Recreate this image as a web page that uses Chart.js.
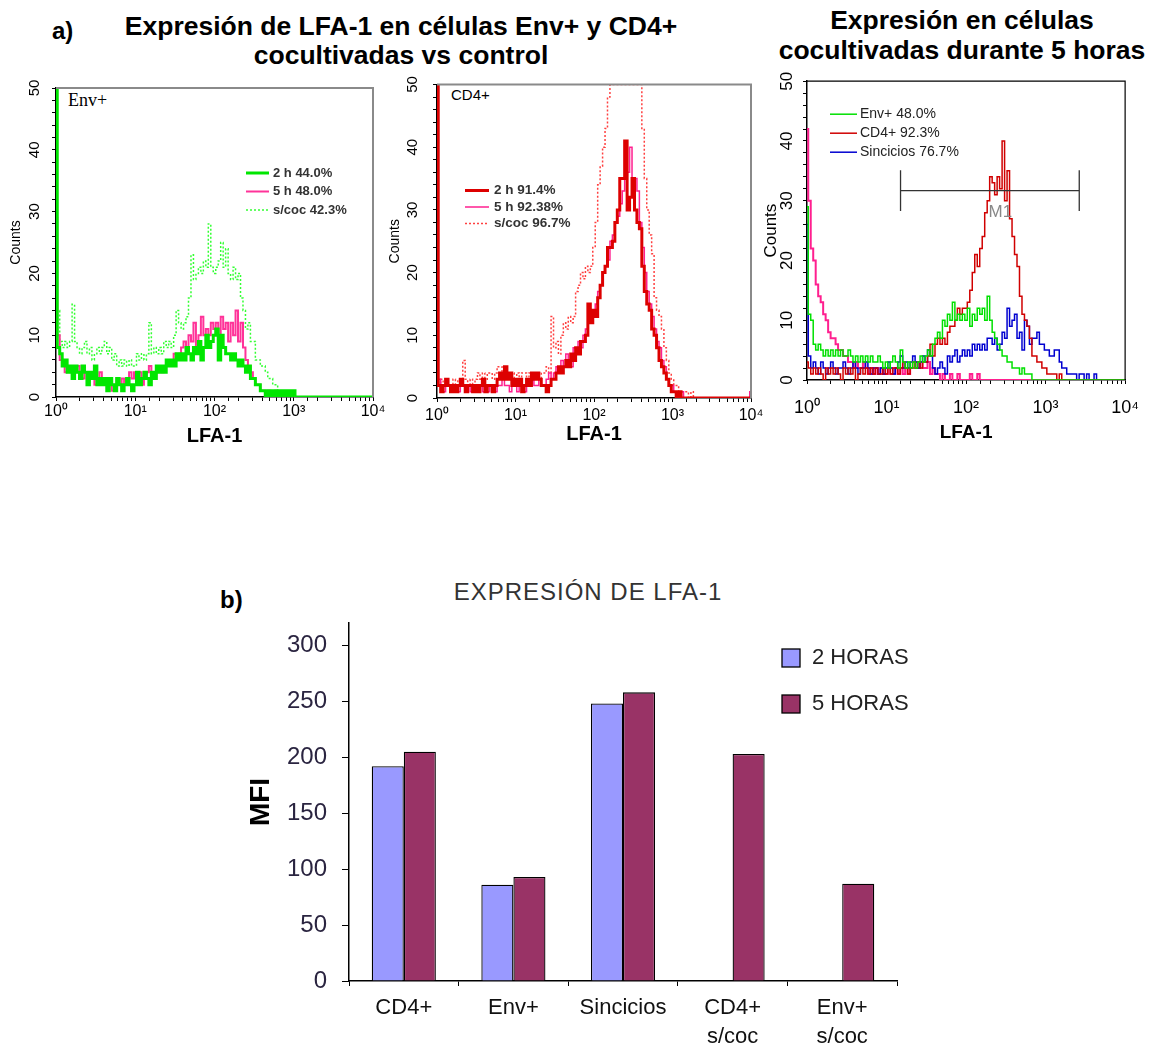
<!DOCTYPE html>
<html>
<head>
<meta charset="utf-8">
<script src="https://cdn.jsdelivr.net/npm/chart.js@4.4.1/dist/chart.umd.min.js"></script>
<style>
  body { margin: 0; background: #fff; width: 1152px; height: 1047px; position: relative; overflow: hidden;
         font-family: "Liberation Sans", Arial, sans-serif; }
  canvas { position: absolute; }
  .txt { position: absolute; white-space: nowrap; color: #000; }
  .head { font-weight: bold; font-size: 26.5px; text-align: center; }
</style>
</head>
<body>
<div class="txt" style="left:52px;top:19px;font-size:24px;line-height:24px;font-weight:bold;">a)</div>
<div class="txt head" style="left:101px;top:12px;width:600px;line-height:29px;">Expresión de LFA-1 en células Env+ y CD4+<br>cocultivadas vs control</div>
<div class="txt head" style="left:712px;top:5px;width:500px;line-height:30px;">Expresión en células<br>cocultivadas durante 5 horas</div>
<div class="txt" style="left:68px;top:91px;font-family:'Liberation Serif',serif;font-size:18px;line-height:18px;">Env+</div>
<div class="txt" style="left:451px;top:87px;font-size:15px;line-height:15px;">CD4+</div>
<div class="txt" style="left:220px;top:588px;font-size:24px;line-height:24px;font-weight:bold;">b)</div>
<div class="txt" style="left:438px;top:580px;width:300px;text-align:center;font-size:24px;line-height:24px;letter-spacing:1px;color:#333;">EXPRESIÓN DE LFA-1</div>

<canvas id="envChart" width="395" height="380" style="left:0;top:70px"></canvas>
<canvas id="cd4Chart" width="395" height="386" style="left:380px;top:64px"></canvas>
<canvas id="mixChart" width="392" height="385" style="left:760px;top:65px"></canvas>
<canvas id="mfiChart" width="720" height="477" style="left:240px;top:570px"></canvas>

<script>
// histogram channels: 32 per decade, channel 0 = 10^0 ... channel 128 = 10^4

// Env+ panel
const envLegend = ['2 h 44.0%', '5 h 48.0%', 's/coc 42.3%'];
const env2h = [
    55,8,7,5,6,4,5,3,5,4,3,5,4,2,4,3,
    5,2,3,2,3,1,3,2,1,3,2,1,2,3,2,1,
    2,4,2,3,4,3,2,4,3,5,4,5,4,6,5,6,
    5,7,6,7,6,8,7,6,8,7,9,6,8,10,8,9,
    10,11,6,10,8,7,7,6,7,6,5,6,5,4,5,3,
    3,2,2,1,1,0,1,0,1,0,1,0,1,0,1,0,
    1,0,0,0,0,0,0,0,0,0,0,0,0,0,0,0,
    0,0,0,0,0,0,0,0,0,0,0,0,0,0,0,0,
    0
];
const env5h = [
    29,10,6,5,4,5,4,3,4,5,4,3,4,3,4,3,
    2,3,4,3,2,3,2,1,2,3,2,3,2,3,4,3,
    4,3,4,2,3,4,5,4,3,4,5,4,5,6,5,6,
    7,6,7,8,9,8,10,9,12,8,10,13,10,11,10,12,
    11,12,10,13,11,12,9,12,10,14,9,12,8,6,5,4,
    3,2,2,1,1,0,1,0,0,1,0,0,0,0,0,0,
    0,0,0,0,0,0,0,0,0,0,0,0,0,0,0,0,
    0,0,0,0,0,0,0,0,0,0,0,0,0,0,0,0,
    0
];
const envScoc = [
    16,14,9,8,9,8,9,15,9,8,7,8,9,7,8,6,
    7,8,7,8,9,7,8,6,7,5,6,5,6,5,6,5,
    5,7,6,7,6,7,12,7,8,7,8,7,9,8,9,8,
    10,14,12,11,12,13,16,23,19,20,21,20,22,21,28,21,
    20,21,22,25,21,24,20,19,21,19,20,16,14,11,12,9,
    9,6,6,5,5,4,3,3,2,2,1,1,1,0,1,0,
    0,0,0,0,0,0,0,0,0,0,0,0,0,0,0,0,
    0,0,0,0,0,0,0,0,0,0,0,0,0,0,0,0,
    0
];

// CD4+ panel
const cd4Legend = ['2 h 91.4%', '5 h 92.38%', 's/coc 96.7%'];
const cd2h = [
    55,2,1,2,3,2,1,2,1,2,3,2,1,2,2,1,
    2,1,2,3,1,2,2,1,2,3,4,3,5,3,4,2,
    3,2,3,1,2,3,2,4,3,4,3,2,2,1,2,3,
    3,4,5,4,5,6,5,7,6,8,7,9,9,10,15,12,
    14,13,16,18,20,21,24,24,25,28,30,35,35,41,30,32,
    35,30,28,27,21,17,15,14,11,10,8,6,5,4,3,2,
    1,1,0,1,0,0,0,0,0,0,0,0,0,0,0,0,
    0,0,0,0,0,0,0,0,0,0,0,0,0,0,0,0,
    0
];
const cd5h = [
    26,3,2,1,2,2,1,2,2,1,2,2,1,2,1,2,
    1,2,2,1,2,1,2,2,1,2,2,3,2,2,1,2,
    2,1,2,2,1,2,2,3,2,2,3,2,2,3,4,3,
    4,5,4,6,5,7,6,5,8,7,9,8,10,11,12,13,
    14,15,17,18,20,21,22,25,26,28,29,31,33,35,36,40,
    34,35,33,28,24,20,17,15,13,11,9,8,6,5,3,2,
    2,1,1,0,1,0,0,0,0,0,0,0,0,0,0,0,
    0,0,0,0,0,0,0,0,0,0,0,0,0,0,0,0,
    1
];
const cdScoc = [
    3,2,3,2,3,2,2,3,2,3,2,6,3,2,3,2,
    3,4,3,4,3,4,4,3,4,5,5,4,3,4,3,4,
    3,4,3,4,4,3,4,3,4,4,3,4,4,5,4,13,
    8,9,7,10,12,11,13,12,13,17,18,20,19,21,20,21,
    24,28,34,37,40,43,48,50,50,50,50,50,50,50,50,50,
    50,50,50,50,43,35,30,26,23,16,14,13,11,8,6,4,
    3,2,2,1,1,1,1,0,1,0,0,0,0,0,0,0,
    0,0,0,0,0,0,0,0,0,0,0,0,0,0,0,0,
    0
];

// cocultivated 5 h panel
const mixLegend = ['Env+ 48.0%', 'CD4+ 92.3%', 'Sincicios 76.7%'];
const mixEnv = [
    29,11,10,6,5,6,5,4,5,4,5,4,5,4,5,4,
    4,5,4,3,4,3,4,3,4,3,4,3,3,4,3,2,
    3,2,3,4,3,2,5,3,2,3,2,3,2,3,4,3,
    4,5,4,6,7,8,7,10,9,11,10,13,10,11,10,11,
    10,12,9,11,10,12,11,12,10,14,10,8,7,6,5,4,
    4,3,3,2,2,2,1,2,1,1,1,0,0,0,0,0,
    0,0,0,0,0,0,0,0,0,0,0,0,0,0,0,0,
    0,0,0,0,0,0,0,0,0,0,0,0,0,0,0,0,
    0
];
const mixCd4 = [
    3,2,1,2,1,2,1,0,2,1,2,1,2,1,0,2,
    1,2,1,2,0,1,2,1,2,1,2,1,2,1,1,2,
    1,2,1,2,2,1,2,3,2,1,2,3,2,3,2,3,
    3,4,6,4,6,7,6,7,6,8,9,9,10,12,11,12,
    12,13,15,18,21,19,22,24,28,30,34,33,31,34,32,40,
    30,35,27,24,21,19,14,11,10,9,7,4,4,3,3,2,
    2,1,1,1,1,0,1,0,0,0,0,0,0,0,0,0,
    0,0,0,0,0,0,0,0,0,0,0,0,0,0,0,0,
    0
];
const mixSyn = [
    26,4,2,3,2,1,3,2,1,2,3,2,1,2,2,3,
    2,1,2,3,2,1,2,2,3,2,1,2,2,1,2,1,
    2,3,2,1,2,3,4,2,3,2,3,4,3,2,3,4,
    3,5,4,2,1,2,3,2,1,4,3,4,5,3,4,5,
    4,5,4,6,5,6,5,6,5,7,7,6,7,5,6,8,
    7,12,9,10,11,7,8,5,10,9,6,7,7,8,6,6,
    5,5,4,4,5,5,3,2,2,1,1,1,1,0,1,1,
    0,1,0,0,1,0,0,0,0,0,0,0,0,0,0,0,
    0
];
const mixOther = [
    42,30,22,20,16,14,13,11,10,8,7,7,6,5,5,4,
    4,3,3,2,3,2,2,3,2,1,2,1,2,1,2,1,
    1,2,1,1,2,1,2,1,2,1,2,2,3,2,3,2,
    2,3,1,2,1,1,0,1,0,0,1,0,0,1,0,0,
    0,0,1,0,0,1,0,0,0,0,0,0,0,0,0,0,
    0,0,0,0,0,0,0,0,0,0,0,0,0,0,0,0,
    0,0,0,0,0,0,0,0,0,0,0,0,0,0,0,0,
    0,0,0,0,0,0,0,0,0,0,0,0,0,0,0,0,
    0
];
// M1 gate
const m1Range = [15, 2650];
const m1Level = 31.7;
const m1Label = ['M1', 270, 28];

// bar chart
const groups = ['CD4+', 'Env+', 'Sincicios', ['CD4+', 's/coc'], ['Env+', 's/coc']];
const mfi2h = [192, 86, 248, null, null];
const mfi5h = [205, 93, 258, 203, 87];

const SANS = '"Liberation Sans", Arial, sans-serif';
const SUP = ['\u2070', '\u00b9', '\u00b2', '\u00b3', '\u2074'];

const chan = i => Math.pow(10, i / 32);

function decadeLabel(v) {
    const e = Math.log10(v);
    const r = Math.round(e);
    return Math.abs(e - r) < 1e-6 ? '10' + SUP[r] : '';
}

function trace(label, values, color, width, dash, inLegend) {
    return {
        label: label,
        data: values.map((v, i) => ({ x: chan(i), y: v })),
        borderColor: color,
        borderWidth: width,
        borderDash: dash || [],
        stepped: 'middle',
        pointRadius: 0,
        fill: false,
        inLegend: inLegend !== false
    };
}

// legend drawn inside the plot area
const innerLegend = {
    id: 'innerLegend',
    afterDatasetsDraw(chart, args, opts) {
        const { ctx, chartArea } = chart;
        ctx.save();
        ctx.font = opts.font;
        ctx.textBaseline = 'middle';
        let y = chartArea.top + opts.top;
        const x = chartArea.left + opts.left;
        chart.data.datasets.forEach(ds => {
            if (ds.inLegend === false) return;
            let w;
            if (opts.box) {
                w = opts.boxW;
                ctx.fillStyle = ds.backgroundColor;
                ctx.fillRect(x, y - opts.boxH / 2, opts.boxW, opts.boxH);
                ctx.strokeStyle = '#000';
                ctx.lineWidth = 1.3;
                ctx.strokeRect(x, y - opts.boxH / 2, opts.boxW, opts.boxH);
            } else {
                w = opts.lineLen;
                ctx.strokeStyle = ds.borderColor;
                ctx.lineWidth = ds.borderWidth;
                ctx.setLineDash(ds.borderDash || []);
                ctx.beginPath();
                ctx.moveTo(x, y);
                ctx.lineTo(x + w, y);
                ctx.stroke();
                ctx.setLineDash([]);
            }
            ctx.fillStyle = opts.color;
            ctx.fillText(ds.label, x + w + opts.gap, y);
            y += opts.spacing;
        });
        ctx.restore();
    }
};

// top and right edges of the plot box
const frame = {
    id: 'frame',
    afterDatasetsDraw(chart, args, opts) {
        const { ctx, chartArea: a } = chart;
        ctx.save();
        ctx.strokeStyle = opts.color;
        ctx.lineWidth = opts.width;
        ctx.beginPath();
        ctx.moveTo(a.left, a.top);
        ctx.lineTo(a.right, a.top);
        ctx.lineTo(a.right, a.bottom);
        ctx.stroke();
        ctx.restore();
    }
};

// M1 marker
const gateMarker = {
    id: 'gateMarker',
    afterDatasetsDraw(chart, args, opts) {
        const { ctx } = chart;
        const sx = chart.scales.x, sy = chart.scales.y;
        const x1 = sx.getPixelForValue(opts.range[0]);
        const x2 = sx.getPixelForValue(opts.range[1]);
        const y = sy.getPixelForValue(opts.level);
        const yHi = sy.getPixelForValue(opts.level + 3.4);
        const yLo = sy.getPixelForValue(opts.level - 3.4);
        ctx.save();
        ctx.strokeStyle = '#333';
        ctx.lineWidth = 1.3;
        ctx.beginPath();
        ctx.moveTo(x1, y); ctx.lineTo(x2, y);
        ctx.moveTo(x1, yHi); ctx.lineTo(x1, yLo);
        ctx.moveTo(x2, yHi); ctx.lineTo(x2, yLo);
        ctx.stroke();
        ctx.fillStyle = '#888';
        ctx.font = '17px ' + SANS;
        ctx.textAlign = 'center';
        ctx.textBaseline = 'middle';
        ctx.fillText(opts.label[0], sx.getPixelForValue(opts.label[1]), sy.getPixelForValue(opts.label[2]));
        ctx.restore();
    }
};

function histOptions(p) {
    return {
        responsive: false,
        animation: false,
        events: [],
        layout: { padding: { top: p.top, right: p.right, left: 0, bottom: 0 } },
        plugins: {
            legend: { display: false },
            tooltip: { enabled: false },
            innerLegend: p.legend,
            frame: { color: p.frameColor, width: p.frameWidth },
            gateMarker: p.gate || {}
        },
        scales: {
            x: {
                type: 'logarithmic',
                min: 1,
                max: 10000,
                afterFit: s => { s.height = p.xHeight; },
                border: { color: '#000', width: 1.5 },
                grid: { drawOnChartArea: false, tickLength: 4, color: '#000' },
                ticks: {
                    autoSkip: false, maxRotation: 0, padding: p.xPad, color: '#000',
                    font: { family: SANS, size: p.xFont },
                    callback: decadeLabel
                },
                title: {
                    display: true, text: 'LFA-1', color: '#000',
                    font: { family: SANS, size: p.titleFont, weight: 'bold' },
                    padding: { top: 0, bottom: p.titlePad }
                }
            },
            y: {
                min: 0,
                max: 50,
                afterFit: s => { s.width = p.yWidth; },
                border: { color: '#000', width: 1.5 },
                grid: { drawOnChartArea: false, tickLength: 4, color: '#000' },
                ticks: {
                    stepSize: 2, autoSkip: false, minRotation: 90, maxRotation: 90,
                    crossAlign: 'center', padding: p.yPad, color: '#000',
                    font: { family: SANS, size: p.yFont },
                    callback: v => (v % 10 === 0 ? v : '')
                },
                title: {
                    display: true, text: 'Counts', color: '#000',
                    font: { family: SANS, size: p.countsFont },
                    padding: { top: p.countsPad, bottom: 0 }
                }
            }
        }
    };
}

new Chart(document.getElementById('envChart'), {
    type: 'line',
    data: {
        datasets: [
            trace(envLegend[0], env2h, '#00e600', 3),
            trace(envLegend[1], env5h, '#ff3399', 2),
            trace(envLegend[2], envScoc, '#33ff33', 1.5, [2, 2])
        ]
    },
    options: histOptions({
        top: 15, right: 22, xHeight: 53, yWidth: 56, xPad: 1, yPad: 9, xFont: 16, yFont: 15,
        titleFont: 20, titlePad: 2, countsFont: 14, countsPad: 8,
        frameColor: '#8a8a8a', frameWidth: 2,
        legend: { left: 190, top: 85, spacing: 18.5, lineLen: 23, gap: 4, font: 'bold 13px ' + SANS, color: '#333' }
    }),
    plugins: [innerLegend, frame]
});

new Chart(document.getElementById('cd4Chart'), {
    type: 'line',
    data: {
        datasets: [
            trace(cd4Legend[0], cd2h, '#dd0000', 3),
            trace(cd4Legend[1], cd5h, '#ff1f8f', 1.5),
            trace(cd4Legend[2], cdScoc, '#ff4040', 1.5, [2, 2])
        ]
    },
    options: histOptions({
        top: 15, right: 24, xHeight: 52, yWidth: 57, xPad: 4, yPad: 11.5, xFont: 16, yFont: 15,
        titleFont: 20, titlePad: 4, countsFont: 14, countsPad: 7,
        frameColor: '#8a8a8a', frameWidth: 2,
        legend: { left: 28, top: 106, spacing: 16.5, lineLen: 24, gap: 5, font: 'bold 13.5px ' + SANS, color: '#333' }
    }),
    plugins: [innerLegend, frame]
});

new Chart(document.getElementById('mixChart'), {
    type: 'line',
    data: {
        datasets: [
            trace(mixLegend[0], mixEnv, '#00e000', 1.5),
            trace(mixLegend[1], mixCd4, '#d00000', 1.5),
            trace(mixLegend[2], mixSyn, '#0000d0', 1.5),
            trace('', mixOther, '#ff1f8f', 2, null, false)
        ]
    },
    options: histOptions({
        top: 15, right: 26, xHeight: 70, yWidth: 47, xPad: 13, yPad: 6, xFont: 18, yFont: 17,
        titleFont: 19, titlePad: 6, countsFont: 17, countsPad: 1,
        frameColor: '#000', frameWidth: 1.2,
        legend: { left: 23, top: 33, spacing: 19, lineLen: 27, gap: 3, font: '14px ' + SANS, color: '#222' },
        gate: { range: m1Range, level: m1Level, label: m1Label }
    }),
    plugins: [innerLegend, frame, gateMarker]
});

new Chart(document.getElementById('mfiChart'), {
    type: 'bar',
    data: {
        labels: groups,
        datasets: [
            { label: '2 HORAS', data: mfi2h, backgroundColor: '#9999ff', borderColor: '#000', borderWidth: 1.3 },
            { label: '5 HORAS', data: mfi5h, backgroundColor: '#993366', borderColor: '#000', borderWidth: 1.3 }
        ]
    },
    options: {
        responsive: false,
        animation: false,
        events: [],
        layout: { padding: { top: 53, right: 63, left: 0, bottom: 0 } },
        datasets: { bar: { categoryPercentage: 0.585, barPercentage: 1 } },
        plugins: {
            legend: { display: false },
            tooltip: { enabled: false },
            innerLegend: { box: true, left: 433, top: 35, spacing: 46, boxW: 18, boxH: 18, gap: 12, font: '22px ' + SANS, color: '#222' }
        },
        scales: {
            x: {
                afterFit: s => { s.height = 66; },
                border: { color: '#000', width: 1.5 },
                grid: { offset: true, drawOnChartArea: false, tickLength: 5, color: '#000' },
                ticks: { autoSkip: false, maxRotation: 0, minRotation: 0, color: '#111', padding: 8, font: { family: SANS, size: 22, lineHeight: 1.3 } }
            },
            y: {
                min: 0,
                max: 320,
                afterFit: s => { s.width = 109; },
                border: { color: '#000', width: 1.5 },
                grid: { drawOnChartArea: false, tickLength: 7, color: '#000' },
                ticks: { stepSize: 50, includeBounds: false, color: '#2a2440', padding: 15, font: { family: SANS, size: 24 } },
                title: { display: true, text: 'MFI', color: '#000', font: { family: SANS, size: 28, weight: 'bold' }, padding: { top: 4, bottom: 0 } }
            }
        }
    },
    plugins: [innerLegend]
});
</script>
</body>
</html>
